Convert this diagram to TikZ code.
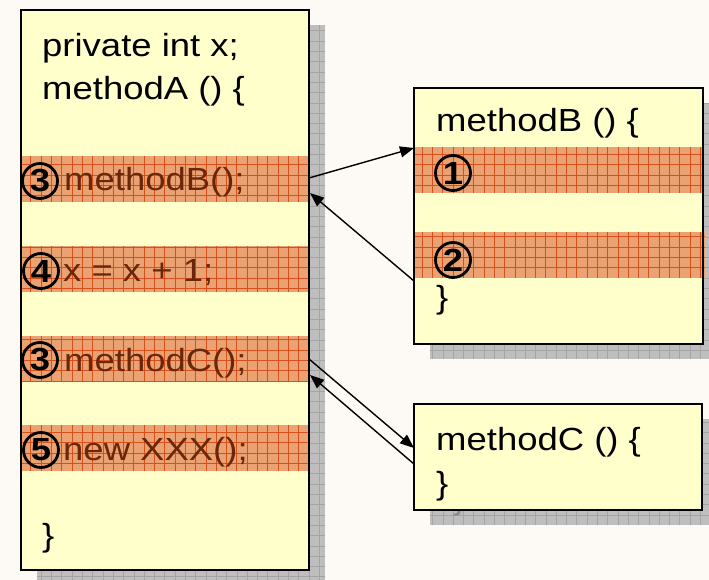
\documentclass[tikz,border=0pt]{standalone}
\usepackage{fontspec}
\setmainfont{Liberation Sans}
\usetikzlibrary{arrows.meta,calc}

\definecolor{paper}{HTML}{FDF9F4}
\definecolor{note}{HTML}{FFFFCC}
\definecolor{band}{HTML}{EBA272}
\definecolor{bandgrid}{HTML}{D6501C}
\definecolor{shadowgray}{HTML}{BEBEBE}
\definecolor{shadowgrid}{HTML}{A4A4A4}
\definecolor{codebrown}{HTML}{6A2608}

% text is set slightly wide
\newcommand\widen[1]{\scalebox{1.14}[1]{#1}}

% highlighted code line: orange fill with a fine red grid
\newcommand\hatchband[4]{%
  \begin{scope}
    \clip (#1,#2) rectangle (#3,#4);
    \fill[band] (#1,#2) rectangle (#3,#4);
    \draw[bandgrid, line width=0.9pt, step=10.3pt] (#1,#4) grid (#3,#2);
  \end{scope}}

% gray drop shadow with a grid texture
\newcommand\gridshadow[4]{%
  \begin{scope}
    \clip (#1,#2) rectangle (#3,#4);
    \fill[shadowgray] (#1,#2) rectangle (#3,#4);
    \draw[shadowgrid, line width=0.8pt, step=10.3pt] (#1,#4) grid (#3,#2);
  \end{scope}}

\tikzset{
  notebox/.style={draw=black, line width=2pt, inner sep=0pt, outer sep=0pt, anchor=north west},
  codetext/.style={anchor=base west, inner sep=0pt, font=\fontsize{32}{38}\selectfont},
  numcircle/.style={circle, draw=black, line width=2.8pt, minimum size=35pt, inner sep=0pt,
                    font=\bfseries\fontsize{32}{32}\selectfont},
  callarrow/.style={line width=1.4pt, -{Triangle[length=14pt,width=11pt]}},
}

\begin{document}
\begin{tikzpicture}[x=1pt,y=-1pt]
  \useasboundingbox (0,0) rectangle (709,580);
  \fill[paper] (0,0) rectangle (709,580);

  % shadows
  \gridshadow{37}{25}{325}{585}
  \gridshadow{430}{103}{719}{359}
  \gridshadow{430}{419}{718}{525}
  \node[codetext, text=black!45] (cshadowbrace) at (453,509) {\widen{\}}};

  % boxes (filled first, outlined at the end)
  \fill[note] (21,10) rectangle (309,570);
  \fill[note] (414,88) rectangle (703,344);
  \fill[note] (414,404) rectangle (702,510);

  % highlighted lines in methodA
  \hatchband{21}{156}{309}{202}
  \hatchband{21}{246}{309}{292}
  \hatchband{21}{336}{309}{382}
  \hatchband{21}{425}{309}{471}
  % highlighted lines in methodB
  \hatchband{414}{147}{704}{193}
  \hatchband{414}{232}{705}{278}

  % outlines
  \node[notebox, minimum width=288pt, minimum height=560pt] (A) at (21,10) {};
  \node[notebox, minimum width=289pt, minimum height=256pt] (B) at (414,88) {};
  \node[notebox, minimum width=288pt, minimum height=106pt] (C) at (414,404) {};

  % methodA text
  \node[codetext] (a1) at (42,57) {\widen{private int x;}};
  \node[codetext] (a2) at (42,100) {\widen{methodA () \{}};
  \node[codetext, text=codebrown] (a3) at (64,191) {\widen{methodB();}};
  \node[codetext, text=codebrown] (a4) at (63,281) {\widen{x = x + 1;}};
  \node[codetext, text=codebrown] (a5) at (64,371) {\widen{methodC();}};
  \node[codetext, text=codebrown] (a6) at (63,460) {\widen{new XXX();}};
  \node[codetext] (a7) at (42,546) {\widen{\}}};

  \node[numcircle] (n3a) at (40,181) {\widen{3}};
  \node[numcircle] (n4)  at (41,271) {\widen{4}};
  \node[numcircle] (n3b) at (40,360) {\widen{3}};
  \node[numcircle] (n5)  at (41,450) {\widen{5}};

  % methodB text
  \node[codetext] (b1) at (436,132) {\widen{methodB () \{}};
  \node[numcircle] (n1) at (453,173) {\widen{1}};
  \node[numcircle] (n2) at (453,260) {\widen{2}};
  \node[codetext] (b2) at (436,308) {\widen{\}}};

  % methodC text
  \node[codetext] (c1) at (436,450) {\widen{methodC () \{}};
  \node[codetext] (c2) at (436,494) {\widen{\}}};

  % calls and returns
  \draw[callarrow] ($(A.north east)+(0,168)$) -- ($(B.north west)+(0,60)$);
  \draw[callarrow] ($(B.north west)+(0,193)$) -- ($(A.north east)+(1,183)$);
  \draw[callarrow] ($(A.north east)+(0,349)$) -- ($(C.north west)+(0,44)$);
  \draw[callarrow] ($(C.north west)+(0,60)$) -- ($(A.north east)+(1,365)$);
\end{tikzpicture}
\end{document}
